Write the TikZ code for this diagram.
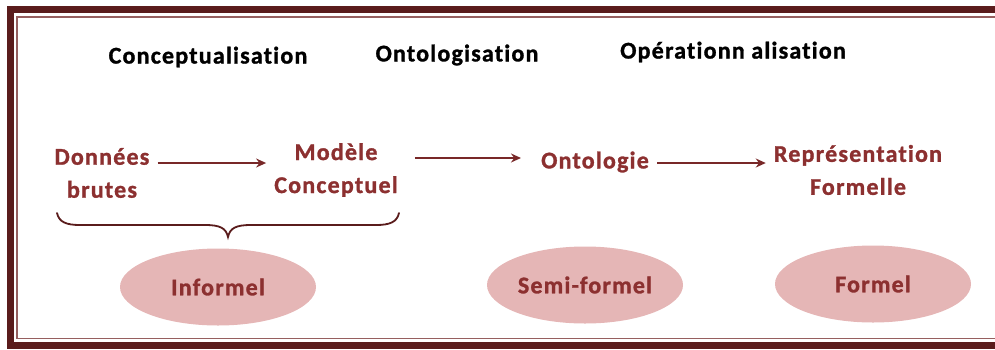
\documentclass[tikz,border=0pt]{standalone}
\usepackage{fontspec}
\usetikzlibrary{shapes.geometric,arrows.meta}
\newfontfamily\calfont{Carlito}[LetterSpace=5, Ligatures={NoCommon}, BoldFeatures={FakeBold=1.2}]
\definecolor{framec}{RGB}{90,28,28}
\definecolor{framel}{RGB}{150,95,95}
\definecolor{redtext}{RGB}{140,48,48}
\definecolor{ovalfill}{RGB}{229,182,182}
\definecolor{arrowc}{RGB}{120,40,40}
\tikzset{
  head/.style={inner sep=0pt, text=black, font={\calfont\bfseries\fontsize{24}{33}\selectfont}},
  item/.style={inner sep=8pt, align=center, text=redtext, font={\calfont\bfseries\fontsize{24}{33}\selectfont}},
  oval/.style={ellipse, fill=ovalfill, inner sep=0pt, minimum width=196pt, minimum height=77pt, text=redtext, font={\calfont\bfseries\fontsize{24}{33}\selectfont}},
  arr/.style={draw=arrowc, line width=1.5pt, -{Stealth[length=10pt,width=9pt]}},
  bracec/.style={draw=framec, line width=1.8pt, line cap=round}
}
\begin{document}
\begin{tikzpicture}[x=1pt,y=-1pt]
\useasboundingbox (0,0) rectangle (995,349);
% frame
\fill[framec] (7,6) rectangle (995,13);
\fill[framec] (7,6) rectangle (14,349);
\fill[framec] (7,342) rectangle (995,349);
\draw[framel, line width=1.3pt] (995,17) -- (17,17) -- (17,338.5) -- (995,338.5);
% headings
\node[head] (c1) at (208,57) {Conceptualisation};
\node[head] (c2) at (457,55) {Ontologisation};
\node[head] (c3) at (733,52) {Opérationn alisation};
% items
\node[item] (don) at (102,173) {Données\\brutes};
\node[item] (mod) at (336,170) {Modèle\\Conceptuel};
\node[item] (ont) at (595,162) {Ontologie};
\node[item] (rep) at (858,170) {Représentation\\Formelle};
% arrows
\coordinate (a1) at ([yshift=10pt]don.east);
\draw[arr] (a1) -- (a1 -| mod.west);
\coordinate (a2) at ([yshift=12pt]mod.east);
\draw[arr, shorten <=9pt, shorten >=12pt] (a2) -- (a2 -| ont.west);
\coordinate (a3) at ([yshift=-1pt]ont.east);
\draw[arr] (a3) -- (a3 -| rep.west);
% brace
\draw[bracec] (57,213) .. controls (59,222) and (66,225) .. (80,225) -- (205,225)
  .. controls (220,225) and (226,228) .. (228,237)
  .. controls (230,228) and (236,225) .. (251,225) -- (376,225)
  .. controls (390,225) and (397,222) .. (399,213);
% ovals
\node[oval] (inf) at (218,287) {Informel};
\node[oval] (semi) at (585,285) {Semi-formel};
\node[oval] (form) at (873,284) {Formel};
\end{tikzpicture}
\end{document}
